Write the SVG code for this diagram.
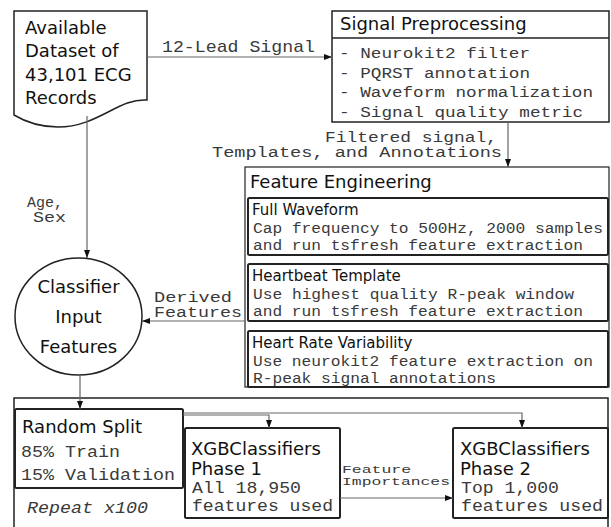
<svg xmlns="http://www.w3.org/2000/svg" width="611" height="527" viewBox="0 0 611 527">
<style>
.bg{fill:#fff}
.box{fill:#fff;stroke:#222;stroke-width:1.5}
.sub{fill:#fff;stroke:#222;stroke-width:2}
.conn{fill:none;stroke:#666;stroke-width:1.2}
.sans{font-family:"DejaVu Sans",sans-serif;fill:#111}
.mono{font-family:"Liberation Mono","Courier New",monospace;fill:#3a3a3a}
.t18{font-size:18px}
.m15{font-size:15.4px}
.m14{font-size:14px}
</style>
<defs>
<marker id="arr" markerWidth="8" markerHeight="6" refX="8" refY="3" orient="auto" markerUnits="userSpaceOnUse">
<path d="M0,0 L8,3 L0,6 Z" fill="#111"/>
</marker>
</defs>
<rect class="bg" x="0" y="0" width="611" height="527"/>

<g id="dataset">
<path class="box" d="M14,11 L147,11 L147,100 C118,98 98,127 58,127 C38,127 24,121 14,115 Z"/>
<text class="sans t18" x="25" y="34">Available</text>
<text class="sans t18" x="25" y="57">Dataset of</text>
<text class="sans t18" x="25" y="81">43,101 ECG</text>
<text class="sans t18" x="25" y="104">Records</text>
</g>

<g id="signal-preprocessing">
<rect class="box" x="332" y="11" width="277" height="111"/>
<line x1="332" y1="38" x2="609" y2="38" stroke="#222" stroke-width="1.5"/>
<text class="sans t18" x="340" y="30">Signal Preprocessing</text>
<text class="mono m15" x="339" y="58" textLength="191" lengthAdjust="spacingAndGlyphs">- Neurokit2 filter</text>
<text class="mono m15" x="339" y="78" textLength="191" lengthAdjust="spacingAndGlyphs">- PQRST annotation</text>
<text class="mono m15" x="339" y="97" textLength="254" lengthAdjust="spacingAndGlyphs">- Waveform normalization</text>
<text class="mono m15" x="339" y="117" textLength="244" lengthAdjust="spacingAndGlyphs">- Signal quality metric</text>
</g>

<g id="feature-engineering">
<rect x="245" y="167" width="364" height="220" fill="#fff" stroke="#222" stroke-width="1.2"/>
<text class="sans t18" x="250" y="188">Feature Engineering</text>
<g id="full-waveform">
<rect class="sub" x="248" y="198" width="360" height="57" rx="1.5"/>
<text class="sans" font-size="15" x="252" y="215">Full Waveform</text>
<text class="mono m14" x="253" y="233" textLength="350" lengthAdjust="spacingAndGlyphs">Cap frequency to 500Hz, 2000 samples</text>
<text class="mono m14" x="253" y="250" textLength="330" lengthAdjust="spacingAndGlyphs">and run tsfresh feature extraction</text>
</g>
<g id="heartbeat-template">
<rect class="sub" x="248" y="264" width="360" height="57" rx="1.5"/>
<text class="sans" font-size="15" x="252" y="281">Heartbeat Template</text>
<text class="mono m14" x="253" y="299" textLength="321" lengthAdjust="spacingAndGlyphs">Use highest quality R-peak window</text>
<text class="mono m14" x="253" y="316" textLength="330" lengthAdjust="spacingAndGlyphs">and run tsfresh feature extraction</text>
</g>
<g id="hrv">
<rect class="sub" x="248" y="331" width="360" height="56" rx="1.5"/>
<text class="sans" font-size="15" x="252" y="348">Heart Rate Variability</text>
<text class="mono m14" x="253" y="366" textLength="340" lengthAdjust="spacingAndGlyphs">Use neurokit2 feature extraction on</text>
<text class="mono m14" x="253" y="383" textLength="243" lengthAdjust="spacingAndGlyphs">R-peak signal annotations</text>
</g>
</g>

<g id="classifier-input">
<ellipse cx="78.5" cy="316.5" rx="63.5" ry="58.5" fill="#fff" stroke="#222" stroke-width="1.5"/>
<text class="sans t18" x="78.5" y="293" text-anchor="middle">Classifier</text>
<text class="sans t18" x="78.5" y="323" text-anchor="middle">Input</text>
<text class="sans t18" x="78.5" y="353" text-anchor="middle">Features</text>
</g>

<g id="training-loop">
<rect class="box" x="14" y="398" width="594" height="140"/>
<text class="mono" font-size="15.8" x="27" y="513" font-style="italic" textLength="121" lengthAdjust="spacingAndGlyphs">Repeat x100</text>
</g>

<g id="random-split">
<rect class="sub" x="15" y="409" width="168" height="79" rx="1.5"/>
<text class="sans t18" x="22" y="433">Random Split</text>
<text class="mono" font-size="15.8" x="21" y="457" textLength="99" lengthAdjust="spacingAndGlyphs">85% Train</text>
<text class="mono" font-size="15.8" x="21" y="480" textLength="154" lengthAdjust="spacingAndGlyphs">15% Validation</text>
</g>

<g id="phase1">
<rect class="sub" x="185" y="428" width="155" height="90" rx="1.5"/>
<text class="sans t18" x="191" y="455">XGBClassifiers</text>
<text class="sans t18" x="191" y="475">Phase 1</text>
<text class="mono" font-size="15.6" x="192" y="493" textLength="109" lengthAdjust="spacingAndGlyphs">All 18,950</text>
<text class="mono" font-size="15.6" x="192" y="511" textLength="141" lengthAdjust="spacingAndGlyphs">features used</text>
</g>

<g id="phase2">
<rect class="sub" x="453" y="428" width="155" height="90" rx="1.5"/>
<text class="sans t18" x="460" y="455">XGBClassifiers</text>
<text class="sans t18" x="460" y="475">Phase 2</text>
<text class="mono" font-size="15.6" x="461" y="493" textLength="98" lengthAdjust="spacingAndGlyphs">Top 1,000</text>
<text class="mono" font-size="15.6" x="461" y="511" textLength="142" lengthAdjust="spacingAndGlyphs">features used</text>
</g>

<g id="connectors">
<line class="conn" x1="147" y1="57" x2="332" y2="57" marker-end="url(#arr)"/>
<line class="conn" x1="508" y1="122" x2="508" y2="167" marker-end="url(#arr)"/>
<line class="conn" x1="87" y1="116" x2="87" y2="258" marker-end="url(#arr)"/>
<line class="conn" x1="245" y1="321" x2="142" y2="321" marker-end="url(#arr)"/>
<line class="conn" x1="80" y1="375" x2="80" y2="409" marker-end="url(#arr)"/>
<polyline class="conn" points="183,413 522,413 522,428" marker-end="url(#arr)"/>
<polyline class="conn" points="183,415 269,415 269,428" marker-end="url(#arr)"/>
<line class="conn" x1="340" y1="498" x2="453" y2="498" marker-end="url(#arr)"/>
<text class="mono" font-size="15.7" x="162" y="52" textLength="153" lengthAdjust="spacingAndGlyphs">12-Lead Signal</text>
<text class="mono" font-size="14.5" x="325" y="142" textLength="172" lengthAdjust="spacingAndGlyphs">Filtered signal,</text>
<text class="mono" font-size="14.5" x="212" y="157" textLength="290" lengthAdjust="spacingAndGlyphs">Templates, and Annotations</text>
<text class="mono" font-size="14.5" x="27" y="207" textLength="36" lengthAdjust="spacingAndGlyphs">Age,</text>
<text class="mono" font-size="14.5" x="33" y="222" textLength="33" lengthAdjust="spacingAndGlyphs">Sex</text>
<text class="mono" font-size="14.5" x="154" y="302" textLength="78" lengthAdjust="spacingAndGlyphs">Derived</text>
<text class="mono" font-size="14.5" x="154" y="317" textLength="88" lengthAdjust="spacingAndGlyphs">Features</text>
<text class="mono" font-size="11.5" x="342" y="473" textLength="69" lengthAdjust="spacingAndGlyphs">Feature</text>
<text class="mono" font-size="11.5" x="342" y="485" textLength="108" lengthAdjust="spacingAndGlyphs">Importances</text>
</g>
</svg>
